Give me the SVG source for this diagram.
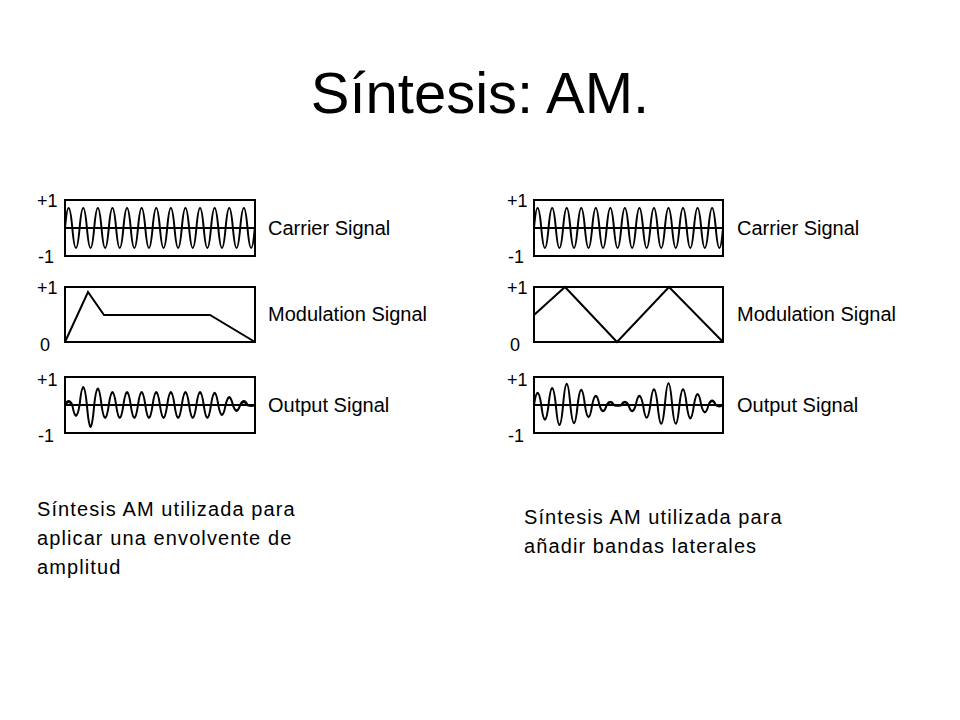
<svg xmlns="http://www.w3.org/2000/svg" width="960" height="720" viewBox="0 0 960 720">
<style>
.t{font-family:"Liberation Sans",Arial,sans-serif;fill:#000}
.ax{font-size:18px}
.lb{font-size:20px}
.box{fill:#fff;stroke:#000;stroke-width:2}
.w{fill:none;stroke:#000;stroke-width:2}
.ln{stroke:#000;stroke-width:2}
.bd{font-size:20px;letter-spacing:1.1px}
</style>
<rect width="960" height="720" fill="#fff"/>
<text class="t" x="480" y="113" font-size="58" text-anchor="middle">Síntesis: AM.</text>
<g id="left">
<text class="t ax" x="37" y="207">+1</text><text class="t ax" x="38" y="263">-1</text>
<rect class="box" x="65" y="200" width="190" height="56"/>
<line class="ln" x1="65" y1="228" x2="255" y2="228"/>
<path class="w" d="M65,228 q3.65,-40 7.3,0 t7.3,0 t7.3,0 t7.3,0 t7.3,0 t7.3,0 t7.3,0 t7.3,0 t7.3,0 t7.3,0 t7.3,0 t7.3,0 t7.3,0 t7.3,0 t7.3,0 t7.3,0 t7.3,0 t7.3,0 t7.3,0 t7.3,0 t7.3,0 t7.3,0 t7.3,0 t7.3,0 t7.3,0 t7.3,0"/>
<text class="t lb" x="268" y="235">Carrier Signal</text>
<text class="t ax" x="37" y="294">+1</text><text class="t ax" x="40" y="351">0</text>
<rect class="box" x="65" y="287" width="190" height="55"/>
<polyline class="w" points="65,342 88,292 104,315 210,315 255,342"/>
<text class="t lb" x="268" y="321">Modulation Signal</text>
<text class="t ax" x="37" y="386">+1</text><text class="t ax" x="38" y="442">-1</text>
<rect class="box" x="65" y="377" width="190" height="56"/>
<line class="ln" x1="65" y1="405" x2="255" y2="405"/>
<path class="w" transform="translate(0,405) scale(1,1.4) translate(0,-405)" d="M65,405 q3.65,-5 7.3,0 q3.65,15 7.3,0 q3.65,-25 7.3,0 q3.65,31 7.3,0 q3.65,-23 7.3,0 q3.65,18 7.3,0 q3.65,-18 7.3,0 q3.65,18 7.3,0 q3.65,-18 7.3,0 q3.65,18 7.3,0 q3.65,-18 7.3,0 q3.65,18 7.3,0 q3.65,-18 7.3,0 q3.65,18 7.3,0 q3.65,-18 7.3,0 q3.65,18 7.3,0 q3.65,-18 7.3,0 q3.65,18 7.3,0 q3.65,-18 7.3,0 q3.65,18 7.3,0 q3.65,-17 7.3,0 q3.65,14 7.3,0 q3.65,-11 7.3,0 q3.65,8 7.3,0 q3.65,-5 7.3,0 q3.65,1 7.3,0"/>
<text class="t lb" x="268" y="412">Output Signal</text>
</g>
<g id="right">
<text class="t ax" x="507" y="207">+1</text><text class="t ax" x="508" y="263">-1</text>
<rect class="box" x="534" y="200" width="189" height="56"/>
<line class="ln" x1="534" y1="228" x2="723" y2="228"/>
<path class="w" d="M534,228 q3.635,-40 7.27,0 t7.27,0 t7.27,0 t7.27,0 t7.27,0 t7.27,0 t7.27,0 t7.27,0 t7.27,0 t7.27,0 t7.27,0 t7.27,0 t7.27,0 t7.27,0 t7.27,0 t7.27,0 t7.27,0 t7.27,0 t7.27,0 t7.27,0 t7.27,0 t7.27,0 t7.27,0 t7.27,0 t7.27,0 t7.27,0"/>
<text class="t lb" x="737" y="235">Carrier Signal</text>
<text class="t ax" x="507" y="294">+1</text><text class="t ax" x="510" y="351">0</text>
<rect class="box" x="534" y="287" width="189" height="55"/>
<polyline class="w" points="534,315 565,287 617,342 669,287 723,342"/>
<text class="t lb" x="737" y="321">Modulation Signal</text>
<text class="t ax" x="507" y="386">+1</text><text class="t ax" x="508" y="442">-1</text>
<rect class="box" x="534" y="377" width="189" height="56"/>
<line class="ln" x1="534" y1="405" x2="723" y2="405"/>
<path class="w" transform="translate(0,405) scale(1,1.2) translate(0,-405)" d="M534,405 q3.635,-20 7.27,0 q3.635,24 7.27,0 q3.635,-28 7.27,0 q3.635,33 7.27,0 q3.635,-35 7.27,0 q3.635,30 7.27,0 q3.635,-25 7.27,0 q3.635,20 7.27,0 q3.635,-15 7.27,0 q3.635,10 7.27,0 q3.635,-5 7.27,0 q3.635,1 7.27,0 q3.635,-5 7.27,0 q3.635,10 7.27,0 q3.635,-15 7.27,0 q3.635,21 7.27,0 q3.635,-26 7.27,0 q3.635,31 7.27,0 q3.635,-36 7.27,0 q3.635,31 7.27,0 q3.635,-26 7.27,0 q3.635,22 7.27,0 q3.635,-18 7.27,0 q3.635,12 7.27,0 q3.635,-7 7.27,0 q3.635,2 7.27,0"/>
<text class="t lb" x="737" y="412">Output Signal</text>
</g>
<g id="captions">
<text class="t bd" x="37" y="516">Síntesis AM utilizada para</text>
<text class="t bd" x="37" y="545">aplicar una envolvente de</text>
<text class="t bd" x="37" y="574">amplitud</text>
<text class="t bd" x="524" y="524">Síntesis AM utilizada para</text>
<text class="t bd" x="524" y="553">añadir bandas laterales</text>
</g>
</svg>
